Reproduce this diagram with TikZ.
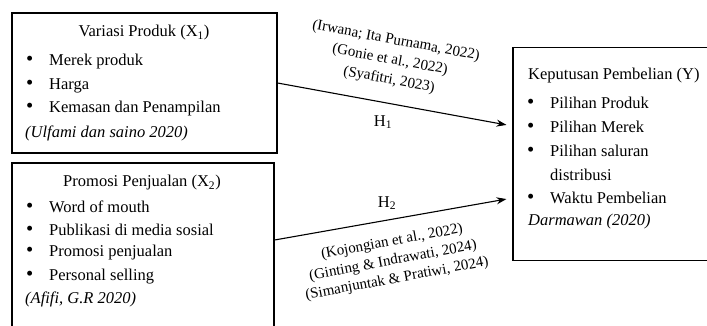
\documentclass[tikz,border=0pt]{standalone}
\usepackage{fontspec}
\setmainfont{Liberation Serif}
\usetikzlibrary{arrows.meta,positioning}
\tikzset{
  box/.style={draw, line width=1.2pt, inner sep=0pt},
  txt/.style={anchor=west, inner sep=0pt, font=\fontsize{16.5}{20}\selectfont},
  ttl/.style={anchor=center, inner sep=0pt, font=\fontsize{16.5}{20}\selectfont},
  cite/.style={anchor=center, inner sep=0pt, font=\fontsize{15}{18}\selectfont},
  conn/.style={line width=1.1pt, -{Stealth[length=10pt,width=7pt]}, shorten >=6pt},
}
\newcommand{\bul}{\makebox[24pt][l]{\hspace{1pt}\scalebox{1.25}{\textbullet}}}
\begin{document}
\begin{tikzpicture}[x=1pt,y=-1pt]
\useasboundingbox (0,0) rectangle (707,325);
% boxes
\node[box, minimum width=265pt, minimum height=140pt] (b1) at (144.5,83) {};
\node[box, minimum width=262pt, minimum height=178pt] (b2) at (143,252) {};
\node[box, minimum width=200pt, minimum height=213pt] (by) at (613,154) {};
% box 1 text
\node[ttl] (t1) at (144,33) {Variasi Produk (X\textsubscript{1})};
\node[txt] (i11) at (25,62) {\bul Merek produk};
\node[txt] (i12) at (25,86) {\bul Harga};
\node[txt] (i13) at (25,109) {\bul Kemasan dan Penampilan};
\node[txt] (r1) at (25,133) {\itshape (Ulfami dan saino 2020)};
% box 2 text
\node[ttl] (t2) at (142,183) {Promosi Penjualan (X\textsubscript{2})};
\node[txt] (i21) at (25,207) {\bul Word of mouth};
\node[txt] (i22) at (25,230) {\bul Publikasi di media sosial};
\node[txt] (i23) at (25,253) {\bul Promosi penjualan};
\node[txt] (i24) at (25,277) {\bul Personal selling};
\node[txt] (r2) at (25,299) {\itshape (Afifi, G.R 2020)};
% box Y text
\node[txt] (ty) at (528,76) {Keputusan Pembelian (Y)};
\node[txt] (iy1) at (526,103) {\bul Pilihan Produk};
\node[txt] (iy2) at (526,127) {\bul Pilihan Merek};
\node[txt] (iy3) at (526,151) {\bul Pilihan saluran};
\node[txt] (iy3b) at (550,175) {distribusi};
\node[txt] (iy4) at (526,198) {\bul Waktu Pembelian};
\node[txt] (ry) at (528,222) {\itshape Darmawan (2020)};
% arrows
\draw[conn] (b1.east) -- ([yshift=28pt]by.west);
\draw[conn] ([yshift=12pt]b2.east) -- ([yshift=-44pt]by.west);
% labels
\node[ttl] (h1) at (383,122) {H\textsubscript{1}};
\node[ttl] (h2) at (387,203) {H\textsubscript{2}};
\node[cite, rotate=-10.5] (c11) at (396,41) {(Irwana; Ita Purnama, 2022)};
\node[cite, rotate=-10.5] (c12) at (390,60) {(Gonie et al., 2022)};
\node[cite, rotate=-10.5] (c13) at (389,80) {(Syafitri, 2023)};
\node[cite, rotate=10.5] (c21) at (392,242) {(Kojongian et al., 2022)};
\node[cite, rotate=10.5] (c22) at (393,261) {(Ginting \& Indrawati, 2024)};
\node[cite, rotate=10.5] (c23) at (397,279) {(Simanjuntak \& Pratiwi, 2024)};
\end{tikzpicture}
\end{document}
